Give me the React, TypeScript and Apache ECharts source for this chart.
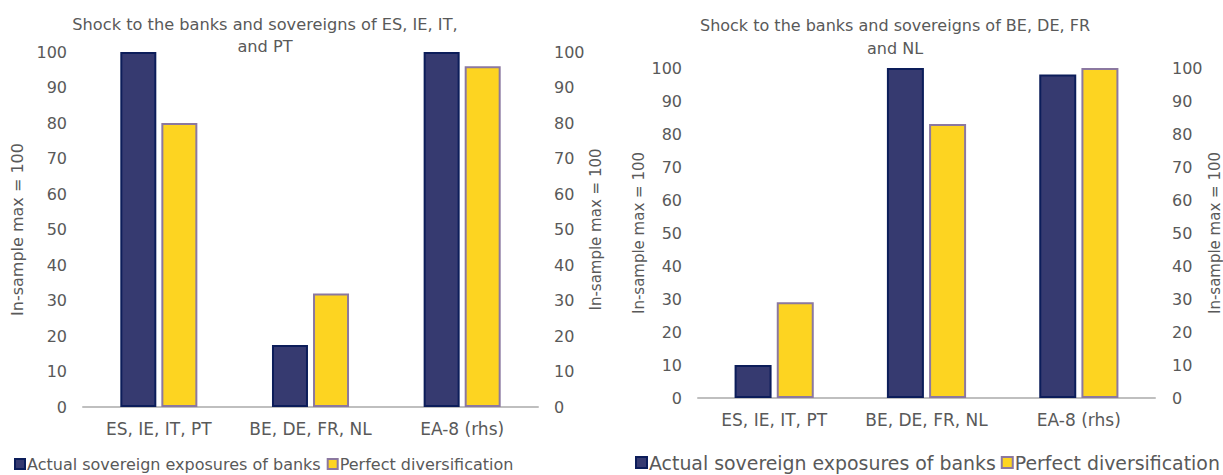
import React, { useEffect, useRef } from "react";
import * as echarts from "echarts";

// Categories shared by both panels
const categories = ["ES, IE, IT, PT", "BE, DE, FR, NL", "EA-8 (rhs)"];

// Panel 1: shock to ES, IE, IT and PT
const leftActual = [100, 17.5, 100];
const leftDiversified = [80, 32, 96];

// Panel 2: shock to BE, DE, FR and NL
const rightActual = [10, 100, 98];
const rightDiversified = [29, 83, 100];

const yTicks = { min: 0, max: 100, interval: 10 };

const seriesNames = ["Actual sovereign exposures of banks", "Perfect diversification"];
const titles = [
  "Shock to the banks and sovereigns of ES, IE, IT,\nand PT",
  "Shock to the banks and sovereigns of BE, DE, FR\nand NL",
];
const axisName = "In-sample max = 100";

const FONT = "DejaVu Sans";
const TEXT = "#595959";
const NAVY = "#363a70";
const NAVY_EDGE = "#0c1d5a";
const YELLOW = "#fdd421";
const YELLOW_EDGE = "#8b78a0";

export default function App() {
  const ref = useRef<HTMLDivElement>(null);

  useEffect(() => {
    if (!ref.current) return;
    const chart = echarts.init(ref.current, null, { renderer: "svg" });

    const grids = [
      { left: 83, right: 685, top: 52, bottom: 68 },
      { left: 698, right: 65, top: 68, bottom: 77 },
    ];

    const xAxis = grids.map((_, i) => ({
      type: "category" as const,
      gridIndex: i,
      data: categories,
      axisLine: { lineStyle: { color: "#bfbfbf", width: 2 } },
      axisTick: { show: false },
      axisLabel: { color: TEXT, fontFamily: FONT, fontSize: 17, margin: 13, interval: 0 },
    }));

    const yAxisBase = (
      grid: number,
      position: "left" | "right",
      nameGap: number,
      labelMargin: number,
      nameSize: number
    ) => ({
      type: "value" as const,
      gridIndex: grid,
      position,
      ...yTicks,
      name: axisName,
      nameLocation: "middle" as const,
      nameGap,
      nameTextStyle: { color: TEXT, fontFamily: FONT, fontSize: nameSize },
      axisLine: { show: false },
      axisTick: { show: false },
      splitLine: { show: false },
      axisLabel: { color: TEXT, fontFamily: FONT, fontSize: 16, margin: labelMargin },
    });

    const yAxis = [
      yAxisBase(0, "left", 58, 16, 16),
      yAxisBase(0, "right", 50, 16, 15),
      yAxisBase(1, "left", 52, 16, 15),
      yAxisBase(1, "right", 52, 17, 15),
    ];

    const bar = (name: string, data: number[], grid: number, navy: boolean, width: number) => ({
      type: "bar" as const,
      name,
      xAxisIndex: grid,
      yAxisIndex: grid * 2,
      data,
      barWidth: width,
      barGap: "14%",
      itemStyle: {
        color: navy ? NAVY : YELLOW,
        borderColor: navy ? NAVY_EDGE : YELLOW_EDGE,
        borderWidth: 2,
      },
    });

    chart.setOption({
      animation: false,
      title: [
        {
          text: titles[0],
          left: 260,
          top: 8,
          textAlign: "center",
          textStyle: { color: TEXT, fontFamily: FONT, fontSize: 16.2, fontWeight: "normal", lineHeight: 22 },
        },
        {
          text: titles[1],
          left: 890,
          top: 9,
          textAlign: "center",
          textStyle: { color: TEXT, fontFamily: FONT, fontSize: 16, fontWeight: "normal", lineHeight: 23 },
        },
      ],
      legend: [
        {
          left: 14,
          top: 456,
          padding: 0,
          width: 560,
          icon: "rect",
          itemWidth: 10,
          itemHeight: 10,
          itemGap: 6,
          textStyle: { color: TEXT, fontFamily: FONT, fontSize: 16, padding: [0, 0, 0, -3] },
          data: seriesNames,
        },
        {
          left: 635,
          top: 453,
          padding: 0,
          width: 620,
          icon: "rect",
          itemWidth: 11,
          itemHeight: 11,
          itemGap: 5,
          textStyle: { color: TEXT, fontFamily: FONT, fontSize: 18.9, padding: [0, 0, 0, -3] },
          data: seriesNames,
        },
      ],
      grid: grids,
      xAxis,
      yAxis,
      series: [
        bar(seriesNames[0], leftActual, 0, true, 36),
        bar(seriesNames[1], leftDiversified, 0, false, 36),
        bar(seriesNames[0], rightActual, 1, true, 37),
        bar(seriesNames[1], rightDiversified, 1, false, 37),
      ],
    });

    return () => chart.dispose();
  }, []);

  return (
    <div
      ref={ref}
      style={{ position: "fixed", left: 0, top: 0, width: 1223, height: 475, background: "#ffffff" }}
    />
  );
}
